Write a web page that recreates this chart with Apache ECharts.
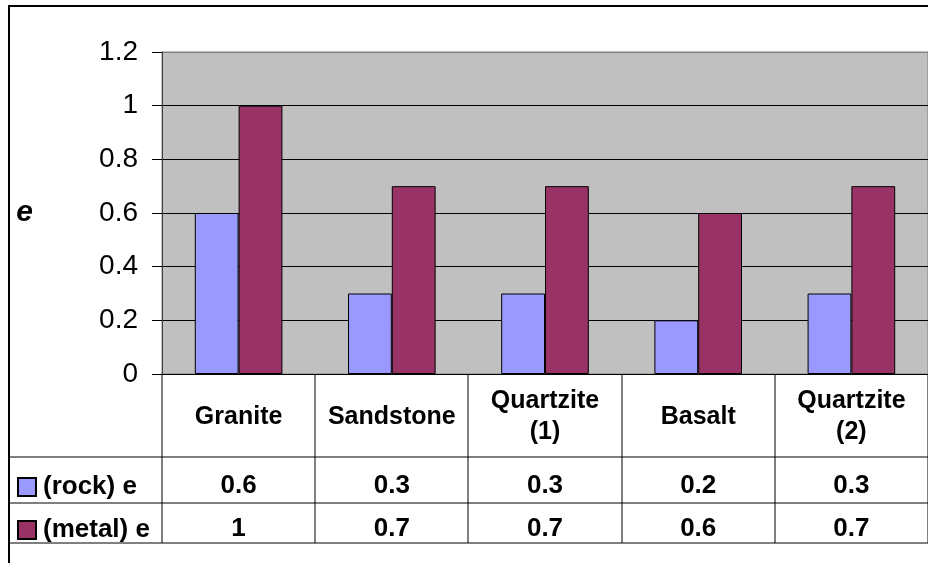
<!DOCTYPE html>
<html>
<head>
<meta charset="utf-8">
<script src="https://cdn.jsdelivr.net/npm/echarts@6/dist/echarts.min.js"></script>
<style>
  html, body { margin: 0; padding: 0; background: #fff; }
  #chart { width: 928px; height: 563px; }
</style>
</head>
<body>
<div id="chart"></div>
<script>
// Emissivity comparison of rock and metal for five specimens
const categories = ['Granite', 'Sandstone', 'Quartzite\n(1)', 'Basalt', 'Quartzite\n(2)'];
const seriesNames = ['(rock) e', '(metal) e'];
const rockValues = [0.6, 0.3, 0.3, 0.2, 0.3];
const metalValues = [1, 0.7, 0.7, 0.6, 0.7];
const yMin = 0, yMax = 1.2, yStep = 0.2;

const FONT = 'Arial, "Liberation Sans", sans-serif';
const ROCK_COLOR = '#9999FF';
const METAL_COLOR = '#993366';

const GRID = { left: 162, top: 52, width: 770, height: 322 };
const TABLE_ROWS = [457, 503, 543];     // horizontal rules of the data table
const TABLE_BOTTOM = 543;

const chart = echarts.init(document.getElementById('chart'), null, { renderer: 'canvas' });

// value rows of the data table are drawn as extra category axes below the plot
function tableAxis(values, margin) {
  return {
    type: 'category',
    gridIndex: 0,
    position: 'bottom',
    data: values.map(v => String(v)),
    axisLine: { show: false },
    axisTick: { show: false },
    splitLine: { show: false },
    axisLabel: {
      margin: margin,
      verticalAlign: 'middle',
      color: '#000',
      fontFamily: FONT,
      fontWeight: 'bold',
      fontSize: 26
    }
  };
}

const splitColors = [];
for (let v = yMin; v <= yMax + 1e-9; v += yStep) splitColors.push('#000');
splitColors[splitColors.length - 1] = '#808080';

chart.setOption({
  animation: false,
  backgroundColor: '#fff',
  grid: {
    left: GRID.left, top: GRID.top, width: GRID.width, height: GRID.height,
    show: true, backgroundColor: '#C0C0C0', borderColor: '#808080', borderWidth: 1,
    containLabel: false
  },
  legend: {
    orient: 'vertical',
    left: 12,
    top: 469,
    padding: 5,
    itemWidth: 18,
    itemHeight: 18,
    itemGap: 17,
    icon: 'rect',
    data: seriesNames,
    selectedMode: false,
    textStyle: {
      color: '#000', fontFamily: FONT, fontWeight: 'bold', fontSize: 26,
      lineHeight: 26, padding: [0, 0, 0, 2]
    }
  },
  xAxis: [
    {
      type: 'category',
      gridIndex: 0,
      position: 'bottom',
      data: categories,
      axisLine: { show: true, lineStyle: { color: '#000', width: 1 } },
      axisTick: { show: false },
      splitLine: { show: false },
      axisLabel: {
        margin: 43,
        verticalAlign: 'middle',
        color: '#000',
        fontFamily: FONT,
        fontWeight: 'bold',
        fontSize: 25,
        lineHeight: 31,
        interval: 0
      }
    },
    tableAxis(rockValues, 112),
    tableAxis(metalValues, 155)
  ],
  yAxis: {
    type: 'value',
    min: yMin,
    max: yMax,
    interval: yStep,
    name: 'e',
    nameLocation: 'middle',
    nameRotate: 0,
    nameGap: 129,
    nameTextStyle: {
      color: '#000', fontFamily: FONT, fontWeight: 'bold', fontStyle: 'italic', fontSize: 30
    },
    axisLine: { show: true, lineStyle: { color: '#404040', width: 1 } },
    axisTick: { show: true, length: 10, inside: false, lineStyle: { color: '#000' } },
    splitLine: { show: true, lineStyle: { color: splitColors, width: 1 } },
    axisLabel: {
      margin: 24,
      color: '#000',
      fontFamily: FONT,
      fontSize: 28
    }
  },
  series: [
    {
      name: seriesNames[0],
      type: 'bar',
      xAxisIndex: 0,
      data: rockValues,
      barWidth: '28.6%',
      barGap: '0%',
      itemStyle: { color: ROCK_COLOR, borderColor: '#000', borderWidth: 1 },
      emphasis: { disabled: true }
    },
    {
      name: seriesNames[1],
      type: 'bar',
      xAxisIndex: 0,
      data: metalValues,
      barWidth: '28.6%',
      barGap: '0%',
      itemStyle: { color: METAL_COLOR, borderColor: '#000', borderWidth: 1 },
      emphasis: { disabled: true }
    }
  ]
});

// data table rules and the outer chart frame
const axisY = GRID.top + GRID.height;
const c0 = chart.convertToPixel({ xAxisIndex: 0 }, 0);
const c1 = chart.convertToPixel({ xAxisIndex: 0 }, 1);
const band = c1 - c0;
const lines = [];
const lineStyle = { stroke: '#000', lineWidth: 1 };

// left edge of the table body (category axis column)
lines.push({ type: 'line', shape: { x1: GRID.left, y1: axisY, x2: GRID.left, y2: TABLE_BOTTOM }, style: lineStyle, z: 10 });
categories.forEach((c, i) => {
  const x = Math.round(chart.convertToPixel({ xAxisIndex: 0 }, i) + band / 2);
  lines.push({ type: 'line', shape: { x1: x, y1: axisY, x2: x, y2: TABLE_BOTTOM }, style: lineStyle, z: 10 });
});
TABLE_ROWS.forEach(y => {
  lines.push({ type: 'line', shape: { x1: 10, y1: y, x2: 940, y2: y }, style: lineStyle, z: 10 });
});
lines.push({
  type: 'rect',
  shape: { x: 9, y: 6, width: 1000, height: 1000 },
  style: { fill: 'none', stroke: '#000', lineWidth: 2 },
  z: 10
});

chart.setOption({ graphic: lines });
</script>
</body>
</html>
